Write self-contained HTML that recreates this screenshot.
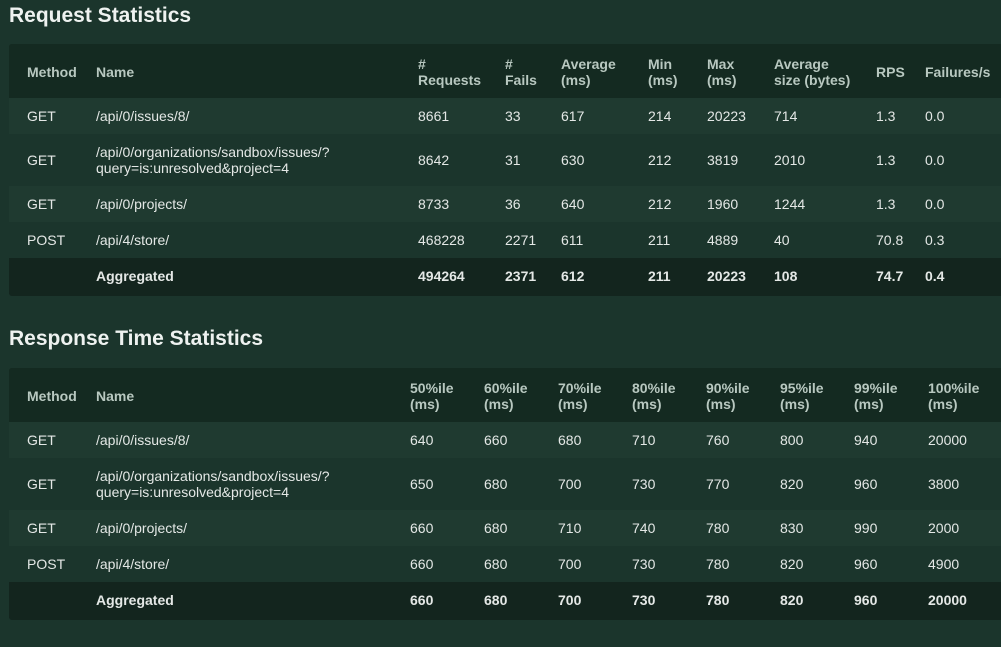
<!DOCTYPE html>
<html><head><meta charset="utf-8">
<style>
body{margin:0;width:1001px;height:647px;overflow:hidden;background:#1b352c;font-family:"Liberation Sans",sans-serif;color:#e4e8e6;}
h2{position:absolute;left:9px;margin:0;font-size:21px;font-weight:bold;color:#eef2f0;}
.card{position:absolute;left:9px;width:1010px;background:#13251e;border-radius:3px;overflow:hidden;padding-bottom:2px;}
table{border-collapse:collapse;table-layout:fixed;font-size:14px;}
td,th{padding:0;text-align:left;vertical-align:middle;line-height:16px;}
th{height:54px;background:#142a21;color:#b8c8c0;font-weight:bold;padding-top:2px;box-sizing:border-box;}
td{height:36px;}
tr.tall td{height:52px;}
tr.odd td{background:#1f3a30;}
tr.ev td{background:#1b352c;}
tr.agg td{background:#13251e;font-weight:bold;height:36px;}
td:first-child,th:first-child{padding-left:18px;}
</style></head><body>
<h2 style="top:4px">Request Statistics</h2>
<div class="card" style="top:44px">
<table>
<colgroup><col style="width:87px"><col style="width:322px"><col style="width:87px"><col style="width:56px"><col style="width:87px"><col style="width:59px"><col style="width:67px"><col style="width:102px"><col style="width:49px"><col style="width:94px"></colgroup>
<tr><th>Method</th><th>Name</th><th># <br>Requests</th><th># <br>Fails</th><th>Average<br>(ms)</th><th>Min<br>(ms)</th><th>Max<br>(ms)</th><th>Average<br>size (bytes)</th><th>RPS</th><th>Failures/s</th></tr>
<tr class="odd"><td>GET</td><td>/api/0/issues/8/</td><td>8661</td><td>33</td><td>617</td><td>214</td><td>20223</td><td>714</td><td>1.3</td><td>0.0</td></tr>
<tr class="ev tall"><td>GET</td><td>/api/0/organizations/sandbox/issues/?<br>query=is:unresolved&amp;project=4</td><td>8642</td><td>31</td><td>630</td><td>212</td><td>3819</td><td>2010</td><td>1.3</td><td>0.0</td></tr>
<tr class="odd"><td>GET</td><td>/api/0/projects/</td><td>8733</td><td>36</td><td>640</td><td>212</td><td>1960</td><td>1244</td><td>1.3</td><td>0.0</td></tr>
<tr class="ev"><td>POST</td><td>/api/4/store/</td><td>468228</td><td>2271</td><td>611</td><td>211</td><td>4889</td><td>40</td><td>70.8</td><td>0.3</td></tr>
<tr class="agg"><td></td><td>Aggregated</td><td>494264</td><td>2371</td><td>612</td><td>211</td><td>20223</td><td>108</td><td>74.7</td><td>0.4</td></tr>
</table></div>
<h2 style="top:327px">Response Time Statistics</h2>
<div class="card" style="top:368px">
<table>
<colgroup><col style="width:87px"><col style="width:314px"><col style="width:74px"><col style="width:74px"><col style="width:74px"><col style="width:74px"><col style="width:74px"><col style="width:74px"><col style="width:74px"><col style="width:91px"></colgroup>
<tr><th>Method</th><th>Name</th><th>50%ile<br>(ms)</th><th>60%ile<br>(ms)</th><th>70%ile<br>(ms)</th><th>80%ile<br>(ms)</th><th>90%ile<br>(ms)</th><th>95%ile<br>(ms)</th><th>99%ile<br>(ms)</th><th>100%ile<br>(ms)</th></tr>
<tr class="odd"><td>GET</td><td>/api/0/issues/8/</td><td>640</td><td>660</td><td>680</td><td>710</td><td>760</td><td>800</td><td>940</td><td>20000</td></tr>
<tr class="ev tall"><td>GET</td><td>/api/0/organizations/sandbox/issues/?<br>query=is:unresolved&amp;project=4</td><td>650</td><td>680</td><td>700</td><td>730</td><td>770</td><td>820</td><td>960</td><td>3800</td></tr>
<tr class="odd"><td>GET</td><td>/api/0/projects/</td><td>660</td><td>680</td><td>710</td><td>740</td><td>780</td><td>830</td><td>990</td><td>2000</td></tr>
<tr class="ev"><td>POST</td><td>/api/4/store/</td><td>660</td><td>680</td><td>700</td><td>730</td><td>780</td><td>820</td><td>960</td><td>4900</td></tr>
<tr class="agg"><td></td><td>Aggregated</td><td>660</td><td>680</td><td>700</td><td>730</td><td>780</td><td>820</td><td>960</td><td>20000</td></tr>
</table></div>
</body></html>
